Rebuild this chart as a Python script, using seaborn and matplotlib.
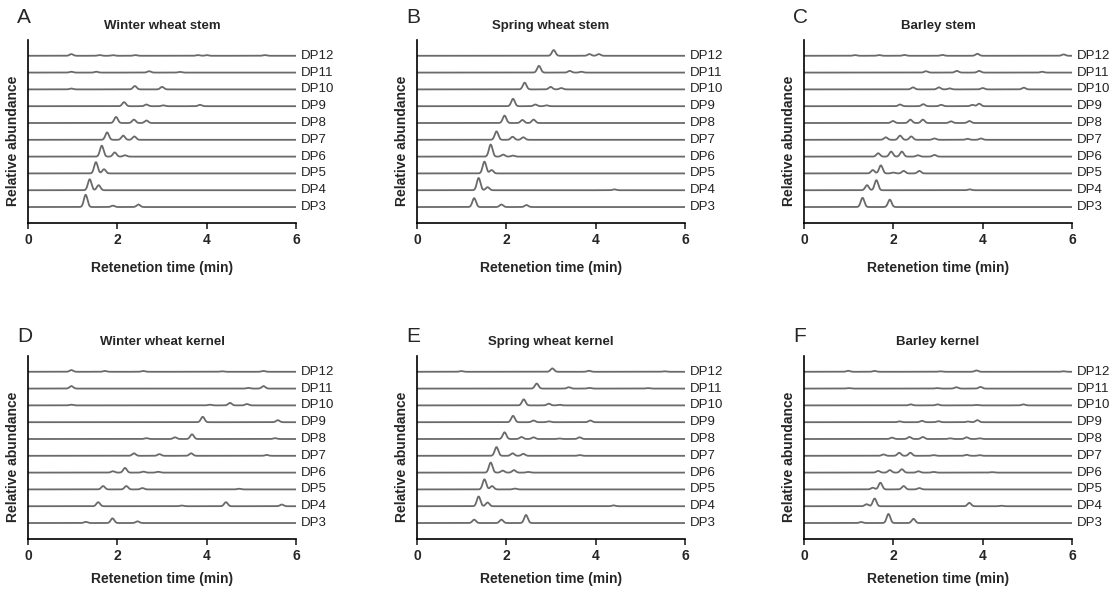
import numpy as np
import pandas as pd
import matplotlib
matplotlib.use("Agg")
import matplotlib.pyplot as plt
import seaborn as sns

sns.set_style("ticks")
plt.rcParams['font.family'] = ['Liberation Sans', 'DejaVu Sans']

# Oligosaccharide traces, peaks: (retention time in min, height in trace-spacing units)
dp_labels = ['DP3', 'DP4', 'DP5', 'DP6', 'DP7', 'DP8', 'DP9', 'DP10', 'DP11', 'DP12']
panel_titles = ['Winter wheat stem', 'Spring wheat stem', 'Barley stem',
                'Winter wheat kernel', 'Spring wheat kernel', 'Barley kernel']
panel_letters = ['A', 'B', 'C', 'D', 'E', 'F']

winter_stem = [
    [(1.29, 0.73), (1.90, 0.08), (2.47, 0.15)],
    [(1.38, 0.65), (1.58, 0.30)],
    [(1.52, 0.67), (1.70, 0.25)],
    [(1.65, 0.65), (1.94, 0.25), (2.17, 0.08)],
    [(1.77, 0.44), (2.13, 0.25), (2.38, 0.20)],
    [(1.97, 0.36), (2.37, 0.20), (2.65, 0.15)],
    [(2.15, 0.24), (2.65, 0.10), (3.03, 0.05), (3.85, 0.08)],
    [(0.97, 0.05), (2.39, 0.20), (3.00, 0.15)],
    [(0.97, 0.05), (1.53, 0.05), (2.71, 0.08), (3.40, 0.04)],
    [(0.97, 0.10), (1.60, 0.04), (1.90, 0.04), (2.40, 0.04), (3.80, 0.04), (4.00, 0.04), (5.30, 0.04)],
]
spring_stem = [
    [(1.28, 0.53), (1.89, 0.15), (2.45, 0.12)],
    [(1.38, 0.73), (1.58, 0.18), (4.42, 0.05)],
    [(1.51, 0.70), (1.67, 0.20)],
    [(1.65, 0.72), (1.93, 0.12), (2.15, 0.06)],
    [(1.78, 0.50), (2.14, 0.18), (2.38, 0.15)],
    [(1.96, 0.44), (2.36, 0.18), (2.61, 0.20)],
    [(2.15, 0.44), (2.65, 0.10), (2.90, 0.05)],
    [(2.41, 0.40), (2.99, 0.15), (3.23, 0.08)],
    [(2.73, 0.40), (3.42, 0.10), (3.68, 0.05)],
    [(3.06, 0.34), (3.86, 0.10), (4.07, 0.10)],
]
barley_stem = [
    [(1.31, 0.55), (1.92, 0.44)],
    [(1.41, 0.30), (1.62, 0.60), (3.71, 0.05)],
    [(1.54, 0.20), (1.72, 0.48), (2.00, 0.05), (2.23, 0.15), (2.58, 0.15)],
    [(1.66, 0.20), (1.95, 0.30), (2.19, 0.30), (2.55, 0.08), (2.92, 0.10)],
    [(1.83, 0.15), (2.15, 0.25), (2.40, 0.20), (2.92, 0.08), (3.66, 0.06), (3.96, 0.08)],
    [(1.99, 0.12), (2.38, 0.20), (2.66, 0.20), (3.29, 0.10), (3.70, 0.12)],
    [(2.15, 0.10), (2.67, 0.12), (3.07, 0.08), (3.77, 0.08), (3.92, 0.15)],
    [(2.44, 0.12), (3.02, 0.12), (3.26, 0.06), (4.00, 0.08), (4.92, 0.10)],
    [(2.73, 0.08), (3.42, 0.10), (3.92, 0.10), (5.33, 0.05)],
    [(1.14, 0.04), (1.68, 0.04), (2.25, 0.05), (3.10, 0.05), (3.88, 0.12), (5.81, 0.08)],
]
winter_kernel = [
    [(1.29, 0.07), (1.89, 0.28), (2.45, 0.10)],
    [(1.57, 0.24), (3.44, 0.04), (4.43, 0.24), (5.68, 0.10)],
    [(1.68, 0.20), (2.20, 0.20), (2.56, 0.08), (4.72, 0.04)],
    [(1.90, 0.08), (2.17, 0.28), (2.58, 0.06), (2.91, 0.05)],
    [(2.37, 0.15), (2.94, 0.10), (3.65, 0.15), (5.34, 0.05)],
    [(2.65, 0.05), (3.29, 0.10), (3.67, 0.28), (5.53, 0.05)],
    [(3.91, 0.32), (5.59, 0.12)],
    [(0.97, 0.04), (4.07, 0.04), (4.52, 0.15), (4.90, 0.08)],
    [(0.97, 0.15), (4.93, 0.04), (5.27, 0.15)],
    [(0.97, 0.10), (1.72, 0.05), (2.58, 0.05), (4.33, 0.03), (5.27, 0.05)],
]
spring_kernel = [
    [(1.28, 0.20), (1.89, 0.20), (2.44, 0.48)],
    [(1.38, 0.58), (1.58, 0.22), (4.40, 0.05)],
    [(1.51, 0.60), (1.68, 0.20), (2.19, 0.05)],
    [(1.65, 0.60), (1.92, 0.12), (2.17, 0.15), (2.49, 0.04)],
    [(1.78, 0.52), (2.14, 0.15), (2.38, 0.12), (3.64, 0.04)],
    [(1.96, 0.40), (2.34, 0.12), (2.61, 0.10), (3.19, 0.03), (3.64, 0.10)],
    [(2.15, 0.38), (2.61, 0.10), (2.95, 0.05), (3.88, 0.10)],
    [(2.39, 0.36), (2.95, 0.10), (3.19, 0.04)],
    [(2.68, 0.30), (3.40, 0.08), (3.86, 0.04), (5.16, 0.03)],
    [(0.99, 0.04), (3.03, 0.20), (3.85, 0.06), (5.53, 0.03)],
]
barley_kernel = [
    [(1.28, 0.06), (1.89, 0.54), (2.45, 0.25)],
    [(1.40, 0.12), (1.58, 0.46), (3.70, 0.20), (4.42, 0.03)],
    [(1.54, 0.10), (1.71, 0.40), (2.23, 0.20), (2.58, 0.08)],
    [(1.66, 0.10), (1.92, 0.15), (2.19, 0.20), (2.56, 0.08), (2.90, 0.04), (4.20, 0.03)],
    [(1.78, 0.08), (2.13, 0.18), (2.38, 0.18), (2.90, 0.04), (3.64, 0.06), (3.93, 0.04)],
    [(1.97, 0.08), (2.36, 0.12), (2.66, 0.12), (3.27, 0.04), (3.64, 0.10), (3.93, 0.04)],
    [(2.14, 0.05), (2.64, 0.08), (3.01, 0.06), (3.67, 0.04), (3.88, 0.12)],
    [(2.39, 0.06), (2.99, 0.06), (3.85, 0.03), (4.91, 0.06)],
    [(0.99, 0.03), (2.97, 0.03), (3.41, 0.08), (3.95, 0.10)],
    [(0.99, 0.06), (1.58, 0.05), (3.04, 0.03), (3.86, 0.08), (5.81, 0.03)],
]
panels = [winter_stem, spring_stem, barley_stem, winter_kernel, spring_kernel, barley_kernel]

rt = np.linspace(0, 6, 1201)
sigma = 0.04


def build_traces(peak_table):
    rows = []
    for i, (dp, peaks) in enumerate(zip(dp_labels, peak_table)):
        signal = np.zeros_like(rt)
        for pos, h in peaks:
            signal += h * np.exp(-0.5 * ((rt - pos) / sigma) ** 2)
        rows.append(pd.DataFrame({'rt': rt, 'signal': signal + i, 'DP': dp}))
    return pd.concat(rows, ignore_index=True)


fig = plt.figure(figsize=(11.17, 5.89), dpi=100)
lefts = [0.0251, 0.3733, 0.7198]
bottoms = [0.6214, 0.0849]
letter_y = [0.971, 0.428]
trace_color = '#6a6a6a'

for k, (peak_table, title, letter) in enumerate(zip(panels, panel_titles, panel_letters)):
    row, col = divmod(k, 3)
    ax = fig.add_axes([lefts[col], bottoms[row], 0.2400, 0.3110])
    df = build_traces(peak_table)
    sns.lineplot(data=df, x='rt', y='signal', units='DP', estimator=None,
                 color=trace_color, linewidth=1.3, ax=ax, legend=False)
    for i, dp in enumerate(dp_labels):
        ax.text(6.1, i, dp, fontsize=9.5, va='center', ha='left', color='#222222')
    ax.set_xlim(0, 6)
    ax.set_ylim(-0.95, 9.95)
    ax.set_xticks([0, 2, 4, 6])
    ax.set_xticklabels(['0', '2', '4', '6'], fontweight='bold', fontsize=10)
    ax.set_yticks([])
    ax.tick_params(axis='x', direction='out', length=4, width=1.2, pad=3)
    sns.despine(ax=ax)
    for side in ['left', 'bottom']:
        ax.spines[side].set_linewidth(1.2)
        ax.spines[side].set_color('black')
    ax.set_xlabel('Retenetion time (min)', fontweight='bold', fontsize=10,
                  labelpad=10 if row == 0 else 7)
    ax.set_ylabel('Relative abundance', fontweight='bold', fontsize=10)
    ax.yaxis.set_label_coords(-0.03, 0.45)
    ax.set_title(title, fontweight='bold', fontsize=9.5, pad=8)
    fig.text(lefts[col] - 0.0095, letter_y[row], letter, fontsize=15,
             ha='left', va='center')

plt.savefig("out.png", dpi=100)
plt.close()
